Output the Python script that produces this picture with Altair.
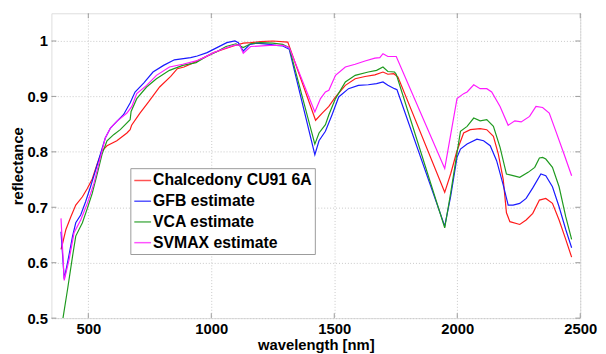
import altair as alt
import pandas as pd

series_names = ["Chalcedony CU91 6A", "GFB estimate", "VCA estimate", "SVMAX estimate"]
series_colors = ["#ff1a1a", "#1a1aff", "#1f9a1f", "#ff1aff"]

red_wl = [389, 396, 409, 429, 449, 476, 496, 516, 536, 556, 576, 616, 657, 670, 676, 710, 745, 790,
          835, 862, 889, 929, 970, 1010, 1050, 1090, 1130, 1160, 1200, 1250, 1311, 1424, 1451, 1478,
          1505, 1545, 1585, 1625, 1665, 1698, 1718, 1742, 1759, 1949, 1973, 1999, 2026, 2053, 2093,
          2120, 2147, 2167, 2187, 2200, 2214, 2254, 2280, 2307, 2334, 2360, 2387, 2414, 2441, 2465]
red_val = [0.624, 0.636, 0.660, 0.683, 0.704, 0.719, 0.734, 0.751, 0.778, 0.802, 0.811, 0.820, 0.834,
           0.840, 0.848, 0.870, 0.890, 0.917, 0.936, 0.950, 0.953, 0.961, 0.970, 0.979, 0.985, 0.991,
           0.996, 0.997, 0.999, 1.000, 0.998, 0.857, 0.870, 0.882, 0.899, 0.920, 0.932, 0.936, 0.939,
           0.944, 0.940, 0.941, 0.935, 0.727, 0.760, 0.802, 0.834, 0.840, 0.842, 0.840, 0.828, 0.796,
           0.750, 0.690, 0.674, 0.669, 0.677, 0.689, 0.713, 0.716, 0.707, 0.677, 0.642, 0.610]

blue_wl = [389, 402, 416, 436, 449, 469, 489, 509, 529, 549, 569, 590, 616, 643, 670, 690, 725, 763,
           806, 850, 916, 943, 983, 1023, 1063, 1096, 1110, 1130, 1157, 1184, 1237, 1264, 1291, 1317,
           1421, 1438, 1464, 1491, 1518, 1558, 1598, 1638, 1672, 1698, 1718, 1745, 1755, 1949, 1973,
           1999, 2013, 2040, 2080, 2107, 2134, 2160, 2187, 2207, 2227, 2254, 2280, 2307, 2340, 2360,
           2387, 2414, 2441, 2465]
blue_val = [0.656, 0.571, 0.601, 0.648, 0.672, 0.686, 0.710, 0.737, 0.766, 0.796, 0.825, 0.843, 0.855,
            0.867, 0.888, 0.908, 0.924, 0.944, 0.956, 0.966, 0.970, 0.973, 0.979, 0.988, 0.997, 1.000,
            0.997, 0.982, 0.994, 0.996, 0.994, 0.992, 0.991, 0.985, 0.795, 0.820, 0.837, 0.867, 0.899,
            0.914, 0.920, 0.921, 0.923, 0.926, 0.920, 0.914, 0.912, 0.666, 0.719, 0.790, 0.805, 0.814,
            0.823, 0.820, 0.811, 0.784, 0.740, 0.704, 0.704, 0.707, 0.716, 0.735, 0.760, 0.757, 0.737,
            0.701, 0.660, 0.627]

green_wl = [397, 416, 436, 449, 476, 496, 516, 536, 556, 576, 603, 630, 670, 674, 697, 737, 777, 830,
            884, 938, 980, 1020, 1060, 1100, 1130, 1160, 1200, 1250, 1290, 1317, 1421, 1438, 1464,
            1478, 1505, 1545, 1585, 1638, 1672, 1698, 1718, 1745, 1752, 1949, 1973, 2013, 2040, 2067,
            2093, 2120, 2147, 2174, 2200, 2227, 2254, 2288, 2315, 2334, 2347, 2360, 2387, 2414, 2441,
            2465]
green_val = [0.500, 0.553, 0.612, 0.648, 0.672, 0.698, 0.725, 0.760, 0.796, 0.820, 0.831, 0.840, 0.858,
             0.873, 0.896, 0.917, 0.932, 0.947, 0.956, 0.961, 0.972, 0.980, 0.990, 0.995, 0.988, 0.995,
             0.997, 0.996, 0.994, 0.988, 0.814, 0.834, 0.849, 0.867, 0.896, 0.926, 0.938, 0.944, 0.947,
             0.953, 0.945, 0.944, 0.940, 0.663, 0.725, 0.837, 0.846, 0.861, 0.856, 0.858, 0.846, 0.808,
             0.760, 0.757, 0.754, 0.763, 0.772, 0.789, 0.790, 0.787, 0.772, 0.737, 0.683, 0.642]

mag_wl = [389, 402, 422, 442, 469, 496, 523, 549, 569, 590, 616, 657, 677, 697, 737, 777, 830, 884,
          938, 970, 1010, 1050, 1090, 1115, 1130, 1160, 1237, 1291, 1317, 1421, 1444, 1464, 1478, 1505,
          1545, 1585, 1625, 1665, 1685, 1698, 1718, 1752, 1949, 1999, 2026, 2040, 2067, 2093, 2120,
          2140, 2174, 2207, 2234, 2260, 2294, 2320, 2347, 2374, 2401, 2434, 2465]
mag_val = [0.680, 0.568, 0.606, 0.654, 0.677, 0.707, 0.743, 0.790, 0.825, 0.843, 0.855, 0.870, 0.882,
           0.905, 0.920, 0.938, 0.953, 0.958, 0.964, 0.970, 0.979, 0.986, 0.992, 0.993, 0.978, 0.990,
           0.992, 0.992, 0.988, 0.872, 0.896, 0.908, 0.911, 0.938, 0.953, 0.958, 0.964, 0.969, 0.970,
           0.977, 0.972, 0.972, 0.770, 0.896, 0.905, 0.908, 0.921, 0.914, 0.914, 0.908, 0.882, 0.848,
           0.856, 0.854, 0.864, 0.882, 0.880, 0.870, 0.837, 0.796, 0.757]

x_ticks = [500, 1000, 1500, 2000, 2500]
y_ticks = [0.5, 0.6, 0.7, 0.8, 0.9, 1.0]

rows = []
for name, wl, val in zip(series_names, [red_wl, blue_wl, green_wl, mag_wl],
                         [red_val, blue_val, green_val, mag_val]):
    for w, v in zip(wl, val):
        rows.append({"series": name, "wavelength": w, "reflectance": v})
df = pd.DataFrame(rows)

W, H = 536, 309
FONT = "Liberation Sans"
FRAME = "#9a9a9a"

xscale = alt.Scale(domain=[350, 2500], nice=False, zero=False)
yscale = alt.Scale(domain=[0.5, 1.05], nice=False, zero=False)

x_axis = alt.Axis(values=x_ticks, format="d", title="wavelength [nm]", grid=True,
                  gridColor="#c8c8c8", gridDash=[1, 2], gridWidth=1, ticks=False, tickSize=0,
                  domain=False, labelFont=FONT, labelFontSize=15, labelFontWeight="bold",
                  labelColor="black", labelPadding=4, labelFlush=False,
                  titleFont=FONT, titleFontSize=15, titleFontWeight="bold", titleColor="black",
                  titleX=W / 2, titleY=32, titleBaseline="alphabetic", titleAnchor="middle")
y_axis = alt.Axis(values=y_ticks, format="~g", title="reflectance", grid=True,
                  gridColor="#c8c8c8", gridDash=[1, 2], gridWidth=1, ticks=False, tickSize=0,
                  domain=False, labelFont=FONT, labelFontSize=15, labelFontWeight="bold",
                  labelColor="black", labelPadding=4, labelFlush=False,
                  titleFont=FONT, titleFontSize=15, titleFontWeight="bold", titleColor="black",
                  titleX=-29, titleY=H / 2, titleAngle=270, titleBaseline="alphabetic",
                  titleAnchor="middle")

legend = alt.Legend(title=None, orient="none", legendX=80, legendY=157, symbolType="stroke",
                    symbolSize=289, symbolStrokeWidth=1.5, labelFont=FONT, labelFontSize=16,
                    labelFontWeight="bold", labelColor="black", fillColor="white",
                    strokeColor=FRAME, padding=3, rowPadding=3, labelOffset=1, labelLimit=400,
                    symbolOffset=0, symbolOpacity=0.75)

lines = alt.Chart(df).mark_line(strokeWidth=1.2, clip=True).encode(
    x=alt.X("wavelength:Q", scale=xscale, axis=x_axis),
    y=alt.Y("reflectance:Q", scale=yscale, axis=y_axis),
    color=alt.Color("series:N", scale=alt.Scale(domain=series_names, range=series_colors),
                    sort=series_names, legend=legend),
    detail="series:N",
)

xt = pd.DataFrame({"wavelength": x_ticks})
yt = pd.DataFrame({"reflectance": y_ticks})
tick_style = dict(color=FRAME, strokeWidth=1)
xb = alt.Chart(xt).mark_rule(**tick_style).encode(
    x=alt.X("wavelength:Q", scale=xscale, axis=x_axis), y=alt.value(H), y2=alt.value(H - 5))
xtop = alt.Chart(xt).mark_rule(**tick_style).encode(
    x=alt.X("wavelength:Q", scale=xscale, axis=x_axis), y=alt.value(0), y2=alt.value(5))
yl = alt.Chart(yt).mark_rule(**tick_style).encode(
    y=alt.Y("reflectance:Q", scale=yscale, axis=y_axis), x=alt.value(0), x2=alt.value(5))
yr = alt.Chart(yt).mark_rule(**tick_style).encode(
    y=alt.Y("reflectance:Q", scale=yscale, axis=y_axis), x=alt.value(W), x2=alt.value(W - 5))

chart = alt.layer(xb, xtop, yl, yr, lines).properties(
    width=W, height=H,
    padding={"left": 44, "top": 3, "right": 18, "bottom": 34},
    autosize=alt.AutoSizeParams(type="none"),
).configure_view(stroke=FRAME, strokeWidth=1).configure(background="white")

chart.save("out.html", embed_options={"renderer": "svg", "actions": False})
